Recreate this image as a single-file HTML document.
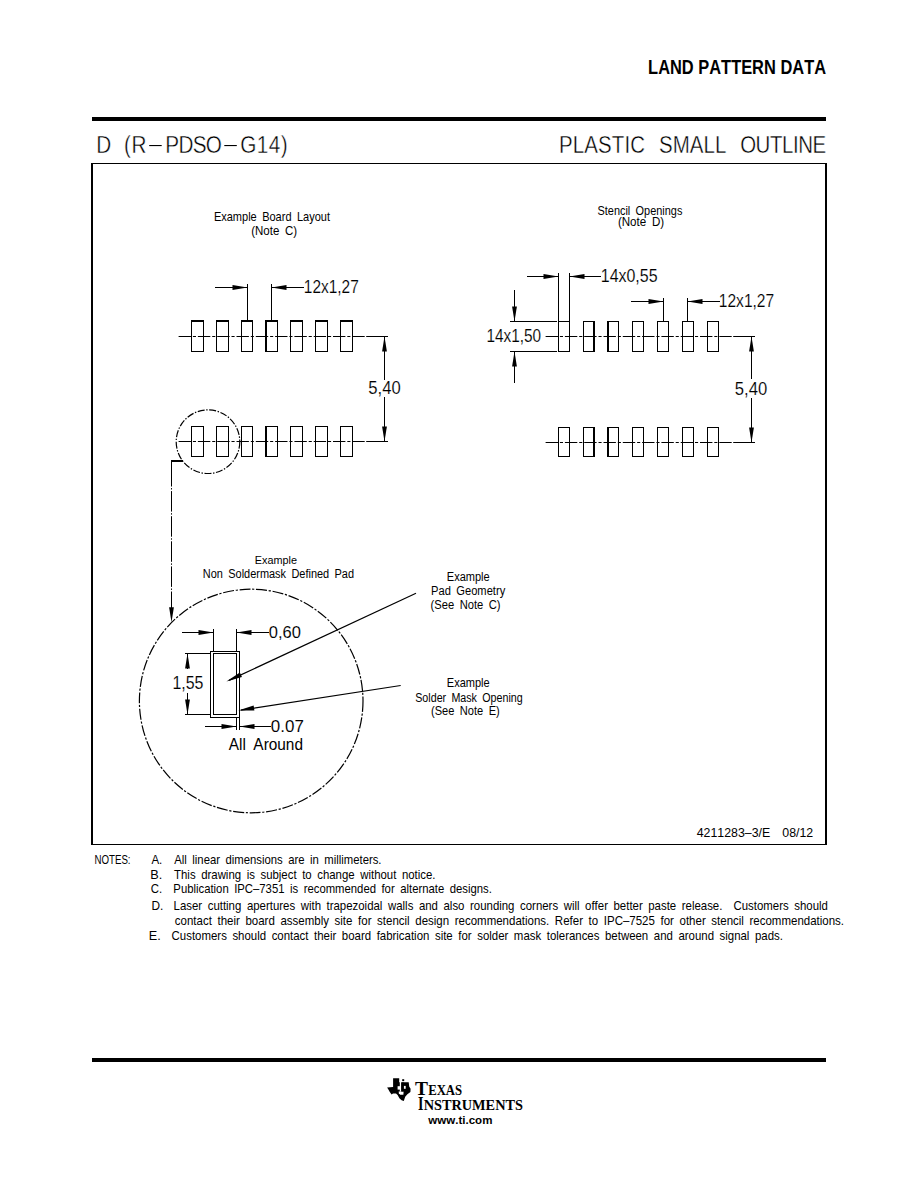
<!DOCTYPE html>
<html><head><meta charset="utf-8"><title>Land Pattern Data</title>
<style>
html,body{margin:0;padding:0;background:#fff;}
body{width:918px;height:1188px;overflow:hidden;}
svg{display:block;}
text{font-kerning:none;white-space:pre;}
</style></head>
<body>
<svg width="918" height="1188" viewBox="0 0 918 1188" fill="#000" xml:space="preserve">
<text x="648.10" y="74.00" font-size="20.64" textLength="177.93" lengthAdjust="spacingAndGlyphs" font-family='"Liberation Sans",sans-serif' font-weight="bold">LAND PATTERN DATA</text>
<rect x="92" y="117" width="734" height="4"/>
<text x="96.30" y="152.90" font-size="23.55" textLength="13.59" lengthAdjust="spacingAndGlyphs" font-family='"Liberation Sans",sans-serif' word-spacing="4.94" letter-spacing="-1.56" stroke="#fff" stroke-width="0.40">D</text>
<text x="123.92" y="152.90" font-size="23.55" textLength="23.43" lengthAdjust="spacingAndGlyphs" font-family='"Liberation Sans",sans-serif' word-spacing="4.94" letter-spacing="0.89" stroke="#fff" stroke-width="0.40">(R</text>
<text x="165.30" y="152.90" font-size="23.55" textLength="56.01" lengthAdjust="spacingAndGlyphs" font-family='"Liberation Sans",sans-serif' word-spacing="4.94" letter-spacing="-0.77" stroke="#fff" stroke-width="0.40">PDSO</text>
<text x="240.16" y="152.90" font-size="23.55" textLength="48.01" lengthAdjust="spacingAndGlyphs" font-family='"Liberation Sans",sans-serif' word-spacing="4.94" letter-spacing="0.55" stroke="#fff" stroke-width="0.40">G14)</text>
<rect x="149.2" y="145" width="12.5" height="1.1"/>
<rect x="224.3" y="145" width="12.5" height="1.1"/>
<text x="559.12" y="152.70" font-size="23.26" textLength="85.95" lengthAdjust="spacingAndGlyphs" font-family='"Liberation Sans",sans-serif' word-spacing="4.88" letter-spacing="0.11" stroke="#fff" stroke-width="0.40">PLASTIC</text>
<text x="658.97" y="152.70" font-size="23.26" textLength="67.61" lengthAdjust="spacingAndGlyphs" font-family='"Liberation Sans",sans-serif' word-spacing="4.88" letter-spacing="0.11" stroke="#fff" stroke-width="0.40">SMALL</text>
<text x="740.13" y="152.70" font-size="23.26" textLength="85.72" lengthAdjust="spacingAndGlyphs" font-family='"Liberation Sans",sans-serif' word-spacing="4.88" letter-spacing="-0.48" stroke="#fff" stroke-width="0.40">OUTLINE</text>
<rect x="91" y="163" width="736" height="1"/>
<rect x="91" y="844" width="736" height="1"/>
<rect x="91" y="163" width="2" height="682"/>
<rect x="825" y="163" width="2" height="682"/>
<text x="213.90" y="220.60" font-size="13.37" textLength="116.08" lengthAdjust="spacingAndGlyphs" font-family='"Liberation Sans",sans-serif' word-spacing="2.81">Example Board Layout</text>
<text x="251.19" y="235.40" font-size="13.37" textLength="45.93" lengthAdjust="spacingAndGlyphs" font-family='"Liberation Sans",sans-serif' word-spacing="2.81">(Note C)</text>
<rect x="191" y="320" width="13" height="2"/>
<rect x="191" y="351" width="13" height="1"/>
<rect x="191" y="320" width="1" height="32"/>
<rect x="203" y="320" width="1" height="32"/>
<rect x="191" y="426" width="13" height="1"/>
<rect x="191" y="456" width="13" height="1"/>
<rect x="191" y="426" width="1" height="31"/>
<rect x="203" y="426" width="1" height="31"/>
<rect x="216" y="320" width="13" height="2"/>
<rect x="216" y="351" width="13" height="1"/>
<rect x="216" y="320" width="1" height="32"/>
<rect x="228" y="320" width="1" height="32"/>
<rect x="216" y="426" width="13" height="1"/>
<rect x="216" y="456" width="13" height="1"/>
<rect x="216" y="426" width="1" height="31"/>
<rect x="228" y="426" width="1" height="31"/>
<rect x="241" y="320" width="12" height="2"/>
<rect x="241" y="351" width="12" height="1"/>
<rect x="241" y="320" width="1" height="32"/>
<rect x="252" y="320" width="1" height="32"/>
<rect x="241" y="426" width="12" height="1"/>
<rect x="241" y="456" width="12" height="1"/>
<rect x="241" y="426" width="1" height="31"/>
<rect x="252" y="426" width="1" height="31"/>
<rect x="265" y="320" width="13" height="2"/>
<rect x="265" y="351" width="13" height="1"/>
<rect x="265" y="320" width="1" height="32"/>
<rect x="277" y="320" width="1" height="32"/>
<rect x="265" y="426" width="13" height="1"/>
<rect x="265" y="456" width="13" height="1"/>
<rect x="265" y="426" width="1" height="31"/>
<rect x="277" y="426" width="1" height="31"/>
<rect x="290" y="320" width="13" height="2"/>
<rect x="290" y="351" width="13" height="1"/>
<rect x="290" y="320" width="1" height="32"/>
<rect x="302" y="320" width="1" height="32"/>
<rect x="290" y="426" width="13" height="1"/>
<rect x="290" y="456" width="13" height="1"/>
<rect x="290" y="426" width="1" height="31"/>
<rect x="302" y="426" width="1" height="31"/>
<rect x="315" y="320" width="13" height="2"/>
<rect x="315" y="351" width="13" height="1"/>
<rect x="315" y="320" width="1" height="32"/>
<rect x="327" y="320" width="1" height="32"/>
<rect x="315" y="426" width="13" height="1"/>
<rect x="315" y="456" width="13" height="1"/>
<rect x="315" y="426" width="1" height="31"/>
<rect x="327" y="426" width="1" height="31"/>
<rect x="340" y="320" width="13" height="2"/>
<rect x="340" y="351" width="13" height="1"/>
<rect x="340" y="320" width="1" height="32"/>
<rect x="352" y="320" width="1" height="32"/>
<rect x="340" y="426" width="13" height="1"/>
<rect x="340" y="456" width="13" height="1"/>
<rect x="340" y="426" width="1" height="31"/>
<rect x="352" y="426" width="1" height="31"/>
<rect x="265" y="320" width="2" height="32"/>
<rect x="265" y="426" width="2" height="31"/>
<rect x="366.20" y="336" width="21.80" height="1"/>
<rect x="352.30" y="336" width="12.40" height="1"/>
<rect x="347.30" y="336" width="3.10" height="1"/>
<rect x="333.00" y="336" width="12.40" height="1"/>
<rect x="328.00" y="336" width="3.10" height="1"/>
<rect x="313.70" y="336" width="12.40" height="1"/>
<rect x="308.70" y="336" width="3.10" height="1"/>
<rect x="294.40" y="336" width="12.40" height="1"/>
<rect x="289.40" y="336" width="3.10" height="1"/>
<rect x="275.10" y="336" width="12.40" height="1"/>
<rect x="270.10" y="336" width="3.10" height="1"/>
<rect x="255.80" y="336" width="12.40" height="1"/>
<rect x="250.80" y="336" width="3.10" height="1"/>
<rect x="236.50" y="336" width="12.40" height="1"/>
<rect x="231.50" y="336" width="3.10" height="1"/>
<rect x="217.20" y="336" width="12.40" height="1"/>
<rect x="212.20" y="336" width="3.10" height="1"/>
<rect x="197.90" y="336" width="12.40" height="1"/>
<rect x="192.90" y="336" width="3.10" height="1"/>
<rect x="178.60" y="336" width="12.40" height="1"/>
<rect x="366.20" y="441" width="21.80" height="1"/>
<rect x="352.30" y="441" width="12.40" height="1"/>
<rect x="347.30" y="441" width="3.10" height="1"/>
<rect x="333.00" y="441" width="12.40" height="1"/>
<rect x="328.00" y="441" width="3.10" height="1"/>
<rect x="313.70" y="441" width="12.40" height="1"/>
<rect x="308.70" y="441" width="3.10" height="1"/>
<rect x="294.40" y="441" width="12.40" height="1"/>
<rect x="289.40" y="441" width="3.10" height="1"/>
<rect x="275.10" y="441" width="12.40" height="1"/>
<rect x="270.10" y="441" width="3.10" height="1"/>
<rect x="255.80" y="441" width="12.40" height="1"/>
<rect x="250.80" y="441" width="3.10" height="1"/>
<rect x="236.50" y="441" width="12.40" height="1"/>
<rect x="231.50" y="441" width="3.10" height="1"/>
<rect x="217.20" y="441" width="12.40" height="1"/>
<rect x="212.20" y="441" width="3.10" height="1"/>
<rect x="197.90" y="441" width="12.40" height="1"/>
<rect x="192.90" y="441" width="3.10" height="1"/>
<rect x="178.60" y="441" width="12.40" height="1"/>
<rect x="247" y="284" width="1" height="36"/>
<rect x="271" y="284" width="1" height="36"/>
<rect x="215" y="287" width="32" height="1"/>
<polygon points="247.50,287.50 232.50,289.90 232.50,285.10"/>
<rect x="272" y="287" width="32" height="1"/>
<polygon points="271.50,287.50 286.50,285.10 286.50,289.90"/>
<text x="303.82" y="292.60" font-size="17.88" textLength="54.95" lengthAdjust="spacingAndGlyphs" font-family='"Liberation Sans",sans-serif' stroke="#fff" stroke-width="0.15">12x1,27</text>
<rect x="384" y="337" width="1" height="43"/>
<rect x="384" y="397" width="1" height="44"/>
<polygon points="384.50,336.50 386.90,351.50 382.10,351.50"/>
<polygon points="384.50,441.50 382.10,426.50 386.90,426.50"/>
<text x="368.33" y="393.90" font-size="18.02" textLength="32.42" lengthAdjust="spacingAndGlyphs" font-family='"Liberation Sans",sans-serif' stroke="#fff" stroke-width="0.15">5,40</text>
<circle cx="208" cy="441.7" r="31.8" fill="none" stroke="#000" stroke-width="1.2" stroke-dasharray="7 1.6 1.4 1.6" stroke-dashoffset="0"/>
<rect x="171" y="460" width="12" height="2"/>
<rect x="171" y="460" width="1" height="7"/>
<line x1="171.5" y1="466" x2="171.5" y2="615" stroke="#000" stroke-width="1" stroke-dasharray="20.5 1.6 1.4 1.6"/>
<polygon points="171.50,622.20 169.10,607.20 173.90,607.20"/>
<text x="597.50" y="214.60" font-size="13.23" textLength="84.89" lengthAdjust="spacingAndGlyphs" font-family='"Liberation Sans",sans-serif' word-spacing="2.78">Stencil Openings</text>
<text x="617.88" y="226.40" font-size="13.23" textLength="46.24" lengthAdjust="spacingAndGlyphs" font-family='"Liberation Sans",sans-serif' word-spacing="2.78">(Note D)</text>
<rect x="558" y="321" width="12" height="1"/>
<rect x="558" y="351" width="12" height="1"/>
<rect x="558" y="321" width="1" height="31"/>
<rect x="569" y="321" width="1" height="31"/>
<rect x="558" y="427" width="12" height="1"/>
<rect x="558" y="456" width="12" height="1"/>
<rect x="558" y="427" width="1" height="30"/>
<rect x="569" y="427" width="1" height="30"/>
<rect x="583" y="321" width="12" height="1"/>
<rect x="583" y="351" width="12" height="1"/>
<rect x="583" y="321" width="1" height="31"/>
<rect x="594" y="321" width="1" height="31"/>
<rect x="583" y="427" width="12" height="1"/>
<rect x="583" y="456" width="12" height="1"/>
<rect x="583" y="427" width="1" height="30"/>
<rect x="594" y="427" width="1" height="30"/>
<rect x="607" y="321" width="12" height="1"/>
<rect x="607" y="351" width="12" height="1"/>
<rect x="607" y="321" width="1" height="31"/>
<rect x="618" y="321" width="1" height="31"/>
<rect x="607" y="427" width="12" height="1"/>
<rect x="607" y="456" width="12" height="1"/>
<rect x="607" y="427" width="1" height="30"/>
<rect x="618" y="427" width="1" height="30"/>
<rect x="632" y="321" width="12" height="1"/>
<rect x="632" y="351" width="12" height="1"/>
<rect x="632" y="321" width="1" height="31"/>
<rect x="643" y="321" width="1" height="31"/>
<rect x="632" y="427" width="12" height="1"/>
<rect x="632" y="456" width="12" height="1"/>
<rect x="632" y="427" width="1" height="30"/>
<rect x="643" y="427" width="1" height="30"/>
<rect x="657" y="321" width="12" height="1"/>
<rect x="657" y="351" width="12" height="1"/>
<rect x="657" y="321" width="1" height="31"/>
<rect x="668" y="321" width="1" height="31"/>
<rect x="657" y="427" width="12" height="1"/>
<rect x="657" y="456" width="12" height="1"/>
<rect x="657" y="427" width="1" height="30"/>
<rect x="668" y="427" width="1" height="30"/>
<rect x="682" y="321" width="12" height="1"/>
<rect x="682" y="351" width="12" height="1"/>
<rect x="682" y="321" width="1" height="31"/>
<rect x="693" y="321" width="1" height="31"/>
<rect x="682" y="427" width="12" height="1"/>
<rect x="682" y="456" width="12" height="1"/>
<rect x="682" y="427" width="1" height="30"/>
<rect x="693" y="427" width="1" height="30"/>
<rect x="707" y="321" width="12" height="1"/>
<rect x="707" y="351" width="12" height="1"/>
<rect x="707" y="321" width="1" height="31"/>
<rect x="718" y="321" width="1" height="31"/>
<rect x="707" y="427" width="12" height="1"/>
<rect x="707" y="456" width="12" height="1"/>
<rect x="707" y="427" width="1" height="30"/>
<rect x="718" y="427" width="1" height="30"/>
<rect x="593" y="321" width="2" height="31"/>
<rect x="607" y="321" width="2" height="31"/>
<rect x="593" y="427" width="2" height="30"/>
<rect x="607" y="427" width="2" height="30"/>
<rect x="733.20" y="336" width="21.80" height="1"/>
<rect x="719.30" y="336" width="12.40" height="1"/>
<rect x="714.30" y="336" width="3.10" height="1"/>
<rect x="700.00" y="336" width="12.40" height="1"/>
<rect x="695.00" y="336" width="3.10" height="1"/>
<rect x="680.70" y="336" width="12.40" height="1"/>
<rect x="675.70" y="336" width="3.10" height="1"/>
<rect x="661.40" y="336" width="12.40" height="1"/>
<rect x="656.40" y="336" width="3.10" height="1"/>
<rect x="642.10" y="336" width="12.40" height="1"/>
<rect x="637.10" y="336" width="3.10" height="1"/>
<rect x="622.80" y="336" width="12.40" height="1"/>
<rect x="617.80" y="336" width="3.10" height="1"/>
<rect x="603.50" y="336" width="12.40" height="1"/>
<rect x="598.50" y="336" width="3.10" height="1"/>
<rect x="584.20" y="336" width="12.40" height="1"/>
<rect x="579.20" y="336" width="3.10" height="1"/>
<rect x="564.90" y="336" width="12.40" height="1"/>
<rect x="559.90" y="336" width="3.10" height="1"/>
<rect x="545.60" y="336" width="12.40" height="1"/>
<rect x="733.20" y="442" width="21.80" height="1"/>
<rect x="719.30" y="442" width="12.40" height="1"/>
<rect x="714.30" y="442" width="3.10" height="1"/>
<rect x="700.00" y="442" width="12.40" height="1"/>
<rect x="695.00" y="442" width="3.10" height="1"/>
<rect x="680.70" y="442" width="12.40" height="1"/>
<rect x="675.70" y="442" width="3.10" height="1"/>
<rect x="661.40" y="442" width="12.40" height="1"/>
<rect x="656.40" y="442" width="3.10" height="1"/>
<rect x="642.10" y="442" width="12.40" height="1"/>
<rect x="637.10" y="442" width="3.10" height="1"/>
<rect x="622.80" y="442" width="12.40" height="1"/>
<rect x="617.80" y="442" width="3.10" height="1"/>
<rect x="603.50" y="442" width="12.40" height="1"/>
<rect x="598.50" y="442" width="3.10" height="1"/>
<rect x="584.20" y="442" width="12.40" height="1"/>
<rect x="579.20" y="442" width="3.10" height="1"/>
<rect x="564.90" y="442" width="12.40" height="1"/>
<rect x="559.90" y="442" width="3.10" height="1"/>
<rect x="545.60" y="442" width="12.40" height="1"/>
<rect x="558" y="273" width="1" height="48"/>
<rect x="569" y="273" width="1" height="48"/>
<rect x="527" y="276" width="31" height="1"/>
<polygon points="558.50,276.50 543.50,278.90 543.50,274.10"/>
<rect x="570" y="276" width="31" height="1"/>
<polygon points="569.50,276.50 584.50,274.10 584.50,278.90"/>
<text x="600.78" y="281.80" font-size="17.59" textLength="56.79" lengthAdjust="spacingAndGlyphs" font-family='"Liberation Sans",sans-serif' stroke="#fff" stroke-width="0.13">14x0,55</text>
<rect x="663" y="298" width="1" height="23"/>
<rect x="687" y="298" width="1" height="23"/>
<rect x="631" y="301" width="32" height="1"/>
<polygon points="663.50,301.50 648.50,303.90 648.50,299.10"/>
<rect x="688" y="301" width="32" height="1"/>
<polygon points="687.50,301.50 702.50,299.10 702.50,303.90"/>
<text x="718.81" y="306.70" font-size="18.60" textLength="55.37" lengthAdjust="spacingAndGlyphs" font-family='"Liberation Sans",sans-serif' stroke="#fff" stroke-width="0.15">12x1,27</text>
<rect x="510" y="321" width="47" height="1"/>
<rect x="510" y="351" width="47" height="1"/>
<rect x="514" y="290" width="1" height="31"/>
<polygon points="514.50,321.50 512.10,306.50 516.90,306.50"/>
<rect x="514" y="352" width="1" height="31"/>
<polygon points="514.50,351.50 516.90,366.50 512.10,366.50"/>
<text x="486.43" y="342.00" font-size="18.02" textLength="54.67" lengthAdjust="spacingAndGlyphs" font-family='"Liberation Sans",sans-serif' stroke="#fff" stroke-width="0.15">14x1,50</text>
<rect x="751" y="337" width="1" height="42"/>
<rect x="751" y="398" width="1" height="44"/>
<polygon points="751.50,336.50 753.90,351.50 749.10,351.50"/>
<polygon points="751.50,442.50 749.10,427.50 753.90,427.50"/>
<text x="734.83" y="394.80" font-size="18.17" textLength="32.42" lengthAdjust="spacingAndGlyphs" font-family='"Liberation Sans",sans-serif' stroke="#fff" stroke-width="0.15">5,40</text>
<text x="254.81" y="563.50" font-size="11.48" textLength="42.17" lengthAdjust="spacingAndGlyphs" font-family='"Liberation Sans",sans-serif' word-spacing="2.41">Example</text>
<text x="202.80" y="578.00" font-size="12.21" textLength="151.20" lengthAdjust="spacingAndGlyphs" font-family='"Liberation Sans",sans-serif' word-spacing="2.56">Non Soldermask Defined Pad</text>
<circle cx="251.2" cy="701" r="111.8" fill="none" stroke="#000" stroke-width="1.2" stroke-dasharray="11 1.7 2.2 1.7" stroke-dashoffset="0"/>
<rect x="210" y="651" width="30" height="1"/>
<rect x="210" y="717" width="30" height="1"/>
<rect x="210" y="651" width="1" height="67"/>
<rect x="239" y="651" width="1" height="67"/>
<rect x="213" y="653" width="24" height="1"/>
<rect x="213" y="714" width="24" height="1"/>
<rect x="213" y="653" width="1" height="62"/>
<rect x="236" y="653" width="1" height="62"/>
<rect x="213" y="629" width="1" height="22"/>
<rect x="236" y="629" width="1" height="22"/>
<rect x="182" y="632" width="31" height="1"/>
<polygon points="213.50,632.50 198.50,634.90 198.50,630.10"/>
<rect x="237" y="632" width="32" height="1"/>
<polygon points="236.50,632.50 251.50,630.10 251.50,634.90"/>
<text x="268.86" y="637.50" font-size="17.01" textLength="32.09" lengthAdjust="spacingAndGlyphs" font-family='"Liberation Sans",sans-serif' stroke="#fff" stroke-width="0.08">0,60</text>
<rect x="185" y="653" width="25" height="1"/>
<rect x="185" y="714" width="25" height="1"/>
<rect x="187" y="654" width="1" height="15"/>
<rect x="187" y="693" width="1" height="21"/>
<polygon points="187.50,653.50 189.90,668.50 185.10,668.50"/>
<polygon points="187.50,714.50 185.10,699.50 189.90,699.50"/>
<text x="172.39" y="688.90" font-size="17.44" textLength="30.98" lengthAdjust="spacingAndGlyphs" font-family='"Liberation Sans",sans-serif' stroke="#fff" stroke-width="0.12">1,55</text>
<rect x="236" y="718" width="1" height="12"/>
<rect x="239" y="718" width="1" height="12"/>
<rect x="205" y="726" width="31" height="1"/>
<polygon points="236.50,726.50 221.50,728.90 221.50,724.10"/>
<rect x="240" y="726" width="31" height="1"/>
<polygon points="239.50,726.50 254.50,724.10 254.50,728.90"/>
<text x="270.84" y="732.00" font-size="16.86" textLength="33.02" lengthAdjust="spacingAndGlyphs" font-family='"Liberation Sans",sans-serif' stroke="#fff" stroke-width="0.07">0.07</text>
<text x="228.77" y="750.00" font-size="16.42" textLength="74.22" lengthAdjust="spacingAndGlyphs" font-family='"Liberation Sans",sans-serif' word-spacing="3.45">All Around</text>
<line x1="416" y1="593.2" x2="229" y2="680.4" stroke="#000" stroke-width="1.2"/>
<polygon points="226.40,681.60 239.84,672.57 241.96,677.10"/>
<line x1="400.7" y1="685.5" x2="241" y2="710.1" stroke="#000" stroke-width="1.2"/>
<polygon points="238.20,710.50 253.63,705.60 254.39,710.54"/>
<text x="446.80" y="580.60" font-size="12.65" textLength="42.89" lengthAdjust="spacingAndGlyphs" font-family='"Liberation Sans",sans-serif' word-spacing="2.66">Example</text>
<text x="431.09" y="595.40" font-size="12.65" textLength="74.14" lengthAdjust="spacingAndGlyphs" font-family='"Liberation Sans",sans-serif' word-spacing="2.66">Pad Geometry</text>
<text x="430.61" y="608.80" font-size="12.94" textLength="69.99" lengthAdjust="spacingAndGlyphs" font-family='"Liberation Sans",sans-serif' word-spacing="2.72">(See Note C)</text>
<text x="446.80" y="686.60" font-size="13.37" textLength="42.89" lengthAdjust="spacingAndGlyphs" font-family='"Liberation Sans",sans-serif' word-spacing="2.81">Example</text>
<text x="415.21" y="701.80" font-size="13.23" textLength="107.48" lengthAdjust="spacingAndGlyphs" font-family='"Liberation Sans",sans-serif' word-spacing="2.78">Solder Mask Opening</text>
<text x="431.01" y="715.00" font-size="13.08" textLength="68.78" lengthAdjust="spacingAndGlyphs" font-family='"Liberation Sans",sans-serif' word-spacing="2.75">(See Note E)</text>
<text x="696.72" y="837.20" font-size="13.37" textLength="116.51" lengthAdjust="spacingAndGlyphs" font-family='"Liberation Sans",sans-serif' word-spacing="2.81">4211283–3/E  08/12</text>
<text x="94.40" y="864.00" font-size="12.06" textLength="36.18" lengthAdjust="spacingAndGlyphs" font-family='"Liberation Sans",sans-serif' word-spacing="2.53">NOTES:</text>
<text x="151.38" y="864.00" font-size="12.06" textLength="10.87" lengthAdjust="spacingAndGlyphs" font-family='"Liberation Sans",sans-serif'>A.</text>
<text x="174.28" y="864.00" font-size="12.06" textLength="207.25" lengthAdjust="spacingAndGlyphs" font-family='"Liberation Sans",sans-serif' word-spacing="2.53">All linear dimensions are in millimeters.</text>
<text x="150.36" y="878.80" font-size="12.06" textLength="12.00" lengthAdjust="spacingAndGlyphs" font-family='"Liberation Sans",sans-serif'>B.</text>
<text x="174.04" y="878.80" font-size="12.06" textLength="261.50" lengthAdjust="spacingAndGlyphs" font-family='"Liberation Sans",sans-serif' word-spacing="2.53">This drawing is subject to change without notice.</text>
<text x="150.82" y="893.40" font-size="12.06" textLength="11.42" lengthAdjust="spacingAndGlyphs" font-family='"Liberation Sans",sans-serif'>C.</text>
<text x="173.37" y="893.40" font-size="12.06" textLength="318.46" lengthAdjust="spacingAndGlyphs" font-family='"Liberation Sans",sans-serif' word-spacing="2.53">Publication IPC–7351 is recommended for alternate designs.</text>
<text x="151.53" y="910.40" font-size="12.06" textLength="11.85" lengthAdjust="spacingAndGlyphs" font-family='"Liberation Sans",sans-serif'>D.</text>
<text x="173.56" y="910.40" font-size="12.06" textLength="654.37" lengthAdjust="spacingAndGlyphs" font-family='"Liberation Sans",sans-serif' word-spacing="2.53">Laser cutting apertures with trapezoidal walls and also rounding corners will offer better paste release.  Customers should</text>
<text x="174.81" y="924.70" font-size="12.06" textLength="669.24" lengthAdjust="spacingAndGlyphs" font-family='"Liberation Sans",sans-serif' word-spacing="2.53">contact their board assembly site for stencil design recommendations. Refer to IPC–7525 for other stencil recommendations.</text>
<text x="148.76" y="940.00" font-size="12.06" textLength="12.00" lengthAdjust="spacingAndGlyphs" font-family='"Liberation Sans",sans-serif'>E.</text>
<text x="171.62" y="940.00" font-size="12.06" textLength="611.32" lengthAdjust="spacingAndGlyphs" font-family='"Liberation Sans",sans-serif' word-spacing="2.53">Customers should contact their board fabrication site for solder mask tolerances between and around signal pads.</text>
<rect x="92" y="1058" width="734" height="4"/>
<path d="M393.1,1078.3 L399.2,1078.3 L399.2,1082.2 L408.7,1082.2 L409.2,1086.5 L410.6,1088.8 L410.4,1092.0 L407.4,1094.2 L405.2,1096.8 L403.8,1100.9 L401.6,1100.3 L399.4,1098.2 L397.6,1095.0 L396.0,1093.6 L393.0,1093.6 L391.6,1094.6 L389.8,1092.0 L388.4,1089.6 L387.1,1087.4 L393.1,1087.0 Z"/>
<rect x="399.8" y="1080.6" width="1.6" height="11" fill="#fff"/>
<rect x="397.6" y="1086.2" width="3.4" height="3.4" fill="#fff"/>
<rect x="403.6" y="1085.9" width="2.1" height="2.9" fill="#fff"/>
<path d="M398.7,1091.4 L403.6,1091.4 L403.4,1094.7 L400.2,1094.7 L398.9,1093.6 Z" fill="#fff"/>
<rect x="401.2" y="1082.5" width="2.6" height="9"/>
<rect x="402.2" y="1079.2" width="2.0" height="1.9"/>
<text x="414.90" y="1095.00" font-size="18.94" textLength="13.00" lengthAdjust="spacingAndGlyphs" font-family='"Liberation Serif",serif' font-weight="bold">T</text>
<text x="428.18" y="1095.00" font-size="14.97" textLength="33.96" lengthAdjust="spacingAndGlyphs" font-family='"Liberation Serif",serif' font-weight="bold">EXAS</text>
<text x="418.03" y="1110.00" font-size="18.94" textLength="5.44" lengthAdjust="spacingAndGlyphs" font-family='"Liberation Serif",serif' font-weight="bold">I</text>
<text x="423.63" y="1110.00" font-size="14.97" textLength="99.38" lengthAdjust="spacingAndGlyphs" font-family='"Liberation Serif",serif' font-weight="bold">NSTRUMENTS</text>
<text x="428.33" y="1124.40" font-size="10.47" textLength="64.08" lengthAdjust="spacingAndGlyphs" font-family='"Liberation Sans",sans-serif' font-weight="bold">www.ti.com</text>
</svg>
</body></html>
